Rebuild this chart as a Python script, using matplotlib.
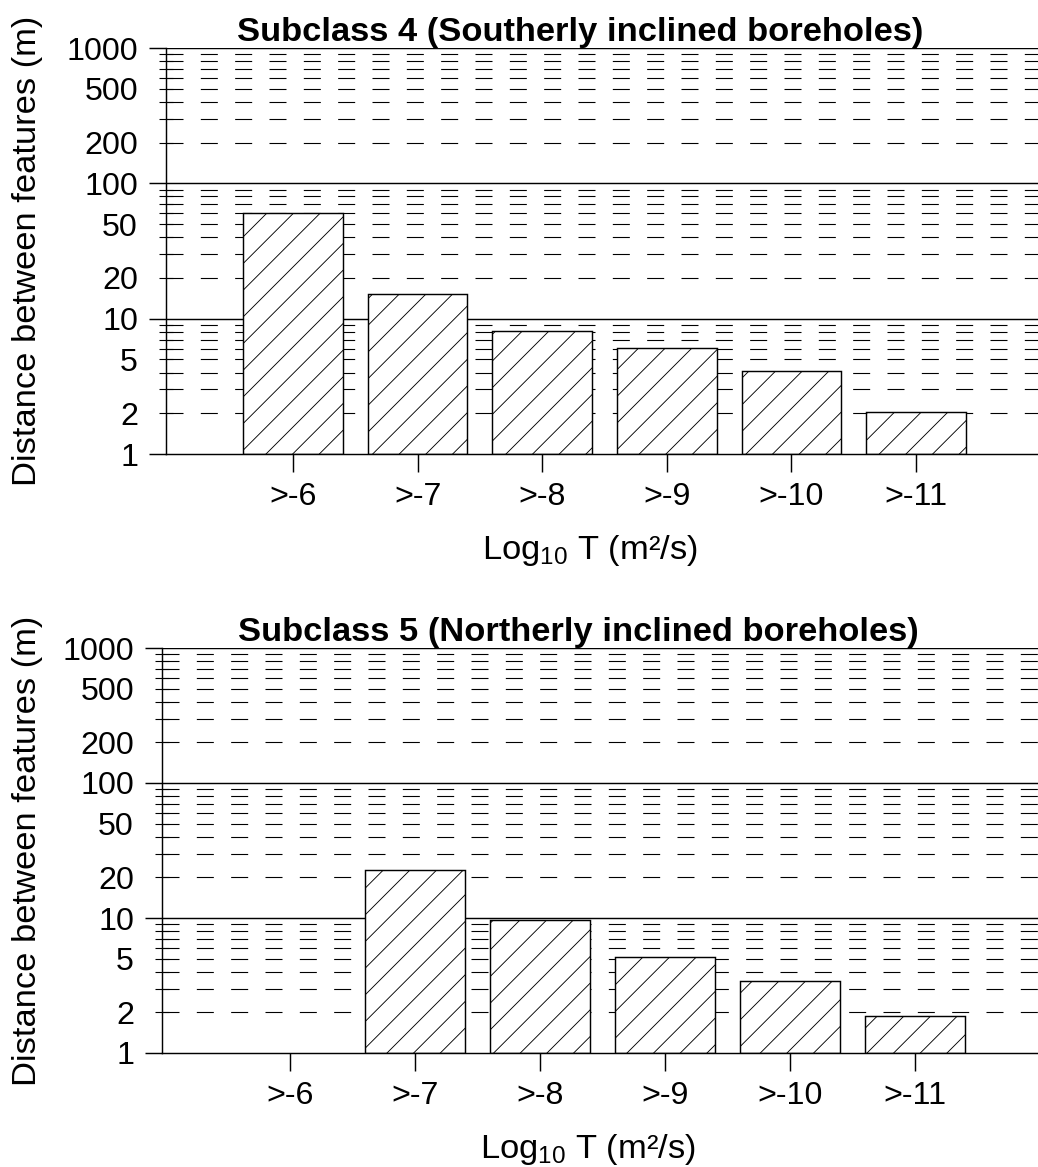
import numpy as np
import matplotlib
matplotlib.use("Agg")
import matplotlib.pyplot as plt
from matplotlib.ticker import FixedLocator, FixedFormatter

# data
categories = [">-6", ">-7", ">-8", ">-9", ">-10", ">-11"]
sub4_dist = [60, 15.2, 8.1, 6.1, 4.1, 2.05]
sub5_dist = [np.nan, 22.5, 9.7, 5.1, 3.4, 1.88]
titles = ["Subclass 4 (Southerly inclined boreholes)",
          "Subclass 5 (Northerly inclined boreholes)"]

major_vals = [1, 10, 100, 1000]
minor_vals = [m * d for d in [1, 10, 100] for m in range(2, 10)]
minor_labels = [str(v) if v in (2, 5, 20, 50, 200, 500) else "" for v in minor_vals]

plt.rcParams['font.family'] = ['Liberation Sans', 'DejaVu Sans']
plt.rcParams['mathtext.fontset'] = 'custom'
plt.rcParams['mathtext.rm'] = 'Liberation Sans'
plt.rcParams['mathtext.it'] = 'Liberation Sans'
plt.rcParams['lines.scale_dashes'] = False
plt.rcParams['hatch.linewidth'] = 0.8

DPI = 80
fig = plt.figure(figsize=(1038 / DPI, 1167 / DPI), dpi=DPI)

boxes = [[166 / 1038, 1 - 454 / 1167, 872 / 1038, 406 / 1167],
         [162 / 1038, 1 - 1053 / 1167, 876 / 1038, 405 / 1167]]
label_x = [-0.141, -0.136]
TICK_FS = 29
LAB_FS = 31

for box, lx, vals, title in zip(boxes, label_x, [sub4_dist, sub5_dist], titles):
    ax = fig.add_axes(box)
    ax.set_yscale('log')
    ax.set_ylim(1, 1000)
    x = np.arange(len(categories))
    ax.set_xlim(-1.02, 5.98)

    # grid
    for v in minor_vals:
        ax.axhline(v, color='black', lw=1.0, linestyle=(0, (15.3, 15.6)), zorder=1)
    for v in major_vals[1:]:
        ax.axhline(v, color='black', lw=1.3, zorder=1)

    h = np.array(vals, dtype=float)
    ok = ~np.isnan(h)
    ax.bar(x[ok], h[ok] - 1, bottom=1, width=0.8, facecolor='white',
           edgecolor='black', linewidth=1.3, hatch='/', zorder=3)

    for s in ['top', 'right']:
        ax.spines[s].set_visible(False)
    for s in ['left', 'bottom']:
        ax.spines[s].set_linewidth(1.3)
        ax.spines[s].set_zorder(4)

    ax.yaxis.set_major_locator(FixedLocator(major_vals))
    ax.yaxis.set_major_formatter(FixedFormatter([str(v) for v in major_vals]))
    ax.yaxis.set_minor_locator(FixedLocator(minor_vals))
    ax.yaxis.set_minor_formatter(FixedFormatter(minor_labels))
    ax.tick_params(axis='y', which='major', direction='out', length=15, width=1.3,
                   labelsize=TICK_FS, pad=10)
    ax.tick_params(axis='y', which='minor', direction='inout', length=12.6, width=1.0,
                   labelsize=TICK_FS, pad=19)

    ax.set_xticks(x)
    ax.set_xticklabels(categories)
    ax.tick_params(axis='x', direction='out', length=16, width=1.3,
                   labelsize=TICK_FS, pad=9)

    ax.set_ylabel("Distance between features (m)", fontsize=LAB_FS)
    ax.yaxis.set_label_coords(lx, 0.5)
    ax.set_xlabel("Log$_{10}$ T (m²/s)", fontsize=LAB_FS)
    ax.xaxis.set_label_coords(0.486, -0.195)
    ax.set_title(title, fontsize=LAB_FS, fontweight='bold', x=0.475, pad=6)

fig.savefig("out.png", dpi=DPI)
